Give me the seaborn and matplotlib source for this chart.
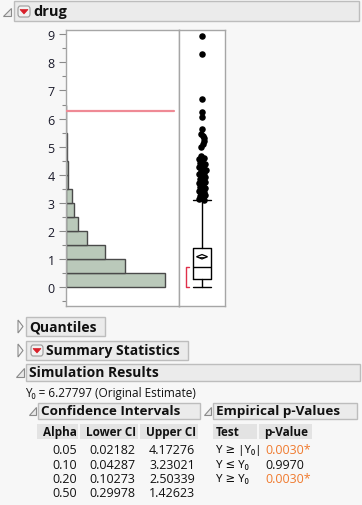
import matplotlib
matplotlib.use("Agg")
import matplotlib.pyplot as plt
import matplotlib.patches as mpatches
import seaborn as sns
import numpy as np

# ---------------- data ----------------
bin_lo = [0.0, 0.5, 1.0, 1.5, 2.0, 2.5, 3.0, 3.5, 4.0, 4.5, 5.0, 5.5, 6.0]
bin_counts = [388, 230, 155, 85, 50, 34, 25, 10, 10, 4, 4, 3, 3]
y0_estimate = 6.27797

box_q1, box_median, box_q3 = 0.295, 0.71, 1.41
whisker_lo, whisker_hi = 0.0, 3.10
box_mean = 1.09
shortest_half = (0.0, 0.71)

outlier_values = [8.93, 8.31, 6.71, 6.25, 6.04, 5.63, 5.45, 5.37, 5.30, 5.20, 5.08, 4.98,
                  4.66, 4.60, 4.55, 4.48, 4.42, 4.38, 4.33, 4.27, 4.22, 4.18, 4.12, 4.07,
                  4.02, 3.97, 3.92, 3.86, 3.80, 3.75, 3.70, 3.64, 3.58, 3.53, 3.48, 3.43,
                  3.39, 3.34, 3.29, 3.24, 3.19, 3.15, 3.12]
outlier_jitter_px = [0, 0, 0, 0, 0, 0, -1, 1, 2, 2, 1, -1,
                     -1, 2, -3, 0, -2, 3, 1, -3, 2, 4, -1, 2,
                     -3, 1, 3, -2, 0, 3, -3, 1, -2, 3, 0, -3,
                     2, -1, 3, -2, 1, -3, 2]

ci_alpha = ["0.05", "0.10", "0.20", "0.50"]
ci_lower = ["0.02182", "0.04287", "0.10273", "0.29978"]
ci_upper = ["4.17276", "3.23021", "2.50339", "1.42623"]

pv_tests = ["Y \u2265 |Y\u2080|", "Y \u2264 Y\u2080", "Y \u2265 Y\u2080"]
pv_values = ["0.0030*", "0.9970", "0.0030*"]
pv_signif = [True, False, True]

# ---------------- setup ----------------
sns.set_theme(style="white")
FAM = ["Open Sans", "DejaVu Sans"]
plt.rcParams["font.family"] = FAM

W, H = 362, 506
BG = "#f7f7f7"
fig = plt.figure(figsize=(W / 100, H / 100), dpi=100, facecolor=BG)


def fx(x):
    return x / W


def fy(y):
    return 1 - y / H


def rect(x0, y0, x1, y1, fc, ec=None, lw=1.0, z=1):
    r = mpatches.Rectangle((fx(x0), fy(y1)), fx(x1) - fx(x0), fy(y0) - fy(y1),
                           transform=fig.transFigure, facecolor=fc,
                           edgecolor=ec if ec else "none", linewidth=lw, zorder=z)
    fig.add_artist(r)


def poly(pts, fc, ec, lw=0.8, z=3):
    p = mpatches.Polygon([(fx(a), fy(b)) for a, b in pts], closed=True,
                         transform=fig.transFigure, facecolor=fc, edgecolor=ec,
                         linewidth=lw, zorder=z)
    fig.add_artist(p)


def text(x, y, s, size=8.5, weight="normal", ha="left", color="#111111", fam=None):
    fig.text(fx(x), fy(y), s, fontsize=size, fontweight=weight, ha=ha, va="center",
             color=color, family=fam if fam else FAM)


def open_tri(x0, y0, x1, y1):
    poly([(x0, y1), (x1, y1), (x1, y0)], "#e8e8e8", "#8a8a8a", lw=0.8)


def closed_tri(x0, y0, x1, y1):
    poly([(x0, y0), (x1, (y0 + y1) / 2), (x0, y1)], "#f4f4f4", "#8a8a8a", lw=0.8)


def red_icon(x0, y0, x1, y1):
    r = mpatches.FancyBboxPatch((fx(x0), fy(y1)), fx(x1) - fx(x0), fy(y0) - fy(y1),
                                boxstyle="round,pad=0,rounding_size=0.006",
                                transform=fig.transFigure, facecolor="#f2f2f2",
                                edgecolor="#9a9a9a", linewidth=0.8, zorder=3)
    fig.add_artist(r)
    cx = (x0 + x1) / 2
    cy = (y0 + y1) / 2
    poly([(cx - 4, cy - 2), (cx + 4, cy - 2), (cx, cy + 2.5)], "#d8202a", "#d8202a", lw=0.5, z=4)


HDR_FC = "#ebebeb"
HDR_EC = "#bdbdbd"

# ---------------- drug header ----------------
rect(14, 2, 359, 22, HDR_FC, HDR_EC)
open_tri(3, 9, 11, 17)
red_icon(18, 7, 30, 18)
text(33, 12, "drug", size=10.5, weight="bold")

# ---------------- plot panels ----------------
ymin, ymax = -0.65, 9.16
left, right_h, right_b = 65.7, 179, 225
top, bottom = 30.7, 306.7
ax = fig.add_axes([fx(left), fy(bottom), fx(right_h) - fx(left), fy(top) - fy(bottom)])
ax2 = fig.add_axes([fx(right_h), fy(bottom), fx(right_b) - fx(right_h), fy(top) - fy(bottom)])
for a in (ax, ax2):
    a.set_facecolor("white")
    a.set_ylim(ymin, ymax)
    for s in a.spines.values():
        s.set_color("#a6a6a6")
        s.set_linewidth(1.0)

bin_edges = bin_lo + [bin_lo[-1] + 0.5]
centers = [b + 0.25 for b in bin_lo]
sns.histplot(y=centers, weights=bin_counts, bins=bin_edges, ax=ax,
             color="#bac9ba", edgecolor="#4a4a4a", linewidth=1.0, alpha=1.0)
ax.set_xlim(0, 443)
ax.set_xlabel("")
ax.set_ylabel("")
ax.set_xticks([])
ax.set_yticks(range(0, 10))
ax.set_yticks(np.arange(-0.5, 9.01, 1.0), minor=True)
ax.tick_params(axis="y", which="major", length=5, width=0.8, color="#8a8a8a",
               labelsize=9, pad=3, labelcolor="#1a1a2a", left=True)
ax.tick_params(axis="y", which="minor", length=3, width=0.8, color="#8a8a8a", left=True)
ax.axhline(y0_estimate, xmin=0, xmax=(174.3 - left) / (right_h - left),
           color="#ef8a95", linewidth=1.6, zorder=5)

# box plot
ax2.set_xlim(-1, 1)
ax2.set_xticks([])
ax2.set_yticks([])
stats = [dict(med=box_median, q1=box_q1, q3=box_q3, whislo=whisker_lo, whishi=whisker_hi,
              fliers=[])]
ax2.bxp(stats, positions=[0], widths=0.8, showfliers=False, capwidths=[0.8],
        boxprops=dict(color="black", linewidth=1.0),
        whiskerprops=dict(color="black", linewidth=1.0),
        capprops=dict(color="black", linewidth=1.0),
        medianprops=dict(color="black", linewidth=1.0), manage_ticks=False)
px_x = 2.0 / (right_b - right_h)
px_y = (ymax - ymin) / (bottom - top)
dw, dh = 5.5 * px_x, 2.2 * px_y
ax2.fill([-dw, 0, dw, 0], [box_mean, box_mean + dh, box_mean, box_mean - dh],
         facecolor="white", edgecolor="black", linewidth=0.9, zorder=4)
ax2.plot([-dw * 0.6, dw * 0.6], [box_mean, box_mean], color="black", linewidth=0.6, zorder=5)
sns.scatterplot(x=[j * px_x for j in outlier_jitter_px], y=outlier_values, ax=ax2,
                color="black", s=22, linewidth=0, zorder=6)
bx = -1 + (185.5 - right_h) * px_x
ax2.plot([bx + 3 * px_x, bx, bx, bx + 3 * px_x],
         [shortest_half[1], shortest_half[1], shortest_half[0], shortest_half[0]],
         color="#e0304a", linewidth=1.0, zorder=5)
ax2.set_xlabel("")
ax2.set_ylabel("")

# ---------------- collapsed sections ----------------
rect(26, 318, 105, 337, HDR_FC, HDR_EC)
closed_tri(18, 321, 23, 334)
text(29, 327.5, "Quantiles", size=10, weight="bold")

rect(26, 342, 188, 361, HDR_FC, HDR_EC)
closed_tri(18, 345, 23, 358)
red_icon(31, 346, 43, 357)
text(46, 351.5, "Summary Statistics", size=10, weight="bold")

rect(26, 365, 360, 382, HDR_FC, HDR_EC)
open_tri(16, 369, 24, 378)
text(29, 373.5, "Simulation Results", size=10, weight="bold")

text(25, 394, "Y\u2080 = 6.27797 (Original Estimate)", size=8.5)

# ---------------- Confidence Intervals ----------------
rect(38, 404, 200, 420, HDR_FC, HDR_EC)
open_tri(29, 408, 36, 416)
text(41, 412, "Confidence Intervals", size=9.7, weight="bold")

CELL = "#e3e3e3"
rect(37, 425, 78, 440, CELL)
rect(80, 425, 138, 440, CELL)
rect(140, 425, 198, 440, CELL)
text(77, 432.5, "Alpha", size=8.5, weight="bold", ha="right")
text(136, 432.5, "Lower CI", size=8.5, weight="bold", ha="right")
text(196, 432.5, "Upper CI", size=8.5, weight="bold", ha="right")
row_y = [451, 465.3, 479.6, 494]
for i in range(4):
    text(77, row_y[i], ci_alpha[i], size=9, ha="right")
    text(135, row_y[i], ci_lower[i], size=9, ha="right")
    text(195, row_y[i], ci_upper[i], size=9, ha="right")

# ---------------- Empirical p-values ----------------
rect(213, 404, 357, 420, HDR_FC, HDR_EC)
open_tri(204, 408, 211, 416)
text(216, 412, "Empirical p-Values", size=9.7, weight="bold")
rect(213, 425, 257, 440, CELL)
rect(259, 425, 312, 440, CELL)
text(216, 432.5, "Test", size=8.5, weight="bold")
text(264, 432.5, "p-Value", size=8.5, weight="bold")
for i in range(3):
    text(216, row_y[i], pv_tests[i], size=8.3, fam=["Noto Sans", "DejaVu Sans"])
    text(265, row_y[i], pv_values[i], size=9,
         color="#f07a2e" if pv_signif[i] else "#111111")

fig.savefig("out.png", dpi=100, facecolor=BG)
